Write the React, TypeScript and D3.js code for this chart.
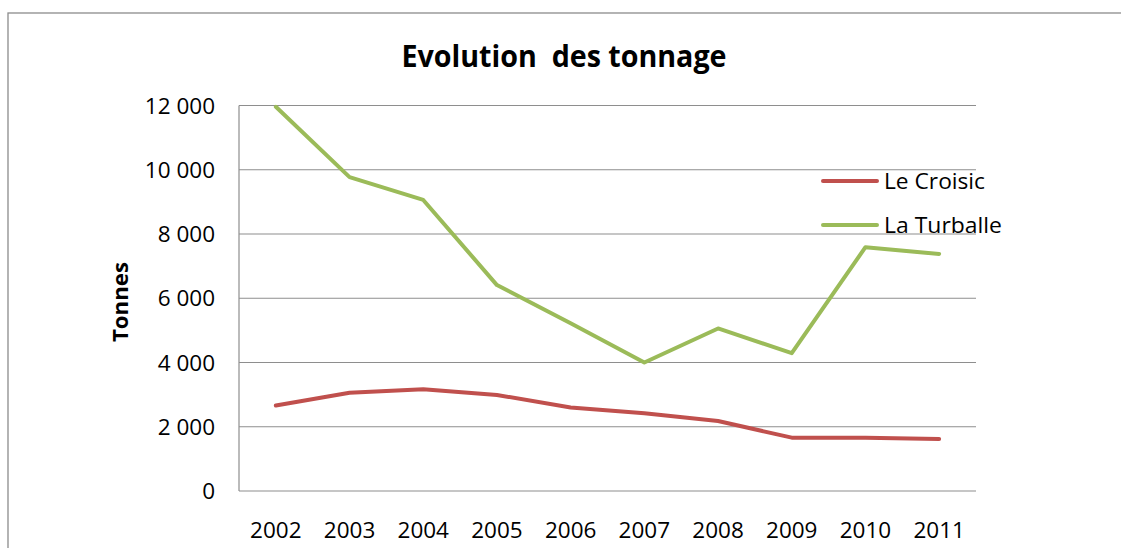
import React from "react";
import * as d3 from "d3";

const years = ["2002", "2003", "2004", "2005", "2006", "2007", "2008", "2009", "2010", "2011"];
const leCroisic = [2660, 3060, 3170, 2990, 2600, 2420, 2180, 1660, 1660, 1620];
const laTurballe = [11960, 9770, 9060, 6410, 5220, 4000, 5060, 4290, 7590, 7380];
const yTicks = [0, 2000, 4000, 6000, 8000, 10000, 12000];
const seriesNames = ["Le Croisic", "La Turballe"];
const seriesColors = ["#C0504D", "#9BBB59"];

const W = 1121;
const H = 548;
const plot = { left: 239, right: 976, top: 105.5, bottom: 491 };
const FONT = "'Open Sans', 'Liberation Sans', sans-serif";

export default function App() {
  const x = d3.scalePoint<string>().domain(years).range([plot.left, plot.right]).padding(0.5);
  const y = d3.scaleLinear().domain([0, 12000]).range([plot.bottom, plot.top]);
  const line = d3
    .line<number>()
    .x((_, i) => x(years[i]) as number)
    .y((d) => y(d));
  const fmt = (v: number) => d3.format(",")(v).replace(/,/g, " ");
  const data = [leCroisic, laTurballe];
  const legendLen = [101, 118];

  return (
    <div style={{ position: "fixed", left: 0, top: 0, width: W, height: H, background: "#fff" }}>
      <svg width={W} height={H} style={{ display: "block" }}>
        <rect x={0} y={0} width={W} height={H} fill="#fff" />
        <rect x={8} y={13} width={W + 20} height={H + 20} fill="none" stroke="#8c8c8c" strokeWidth={1.3} />
        <text
          x={564}
          y={67}
          textAnchor="middle"
          fontFamily={FONT}
          fontWeight="bold"
          fontSize={31}
          textLength={325}
          lengthAdjust="spacingAndGlyphs"
          fill="#000"
          style={{ whiteSpace: "pre" }}
        >
          {"Evolution  des tonnage"}
        </text>
        {yTicks.map((t) => (
          <g key={t}>
            <line x1={plot.left} x2={plot.right} y1={y(t)} y2={y(t)} stroke="#8e8e8e" strokeWidth={1.2} />
            <text x={215} y={y(t) + 8} textAnchor="end" fontFamily={FONT} fontSize={22.5} fill="#000">
              {fmt(t)}
            </text>
          </g>
        ))}
        <line x1={plot.left} x2={plot.left} y1={plot.top} y2={plot.bottom} stroke="#8e8e8e" strokeWidth={1.2} />
        {years.map((yr) => (
          <text key={yr} x={x(yr) as number} y={537.5} textAnchor="middle" fontFamily={FONT} fontSize={22.5} fill="#000">
            {yr}
          </text>
        ))}
        <text
          transform={`translate(127.5,302) rotate(-90)`}
          textAnchor="middle"
          fontFamily={FONT}
          fontWeight="bold"
          fontSize={22}
          textLength={80}
          lengthAdjust="spacingAndGlyphs"
          fill="#000"
        >
          Tonnes
        </text>
        {data.map((d, i) => (
          <path
            key={seriesNames[i]}
            d={line(d) as string}
            fill="none"
            stroke={seriesColors[i]}
            strokeWidth={4}
            strokeLinejoin="round"
            strokeLinecap="round"
          />
        ))}
        {seriesNames.map((n, i) => (
          <g key={n}>
            <line x1={823} x2={877} y1={181 + i * 44} y2={181 + i * 44} stroke={seriesColors[i]} strokeWidth={4} strokeLinecap="round" />
            <text
              x={884}
              y={188.5 + i * 44}
              fontFamily={FONT}
              fontSize={21}
              textLength={legendLen[i]}
              lengthAdjust="spacingAndGlyphs"
              fill="#000"
            >
              {n}
            </text>
          </g>
        ))}
      </svg>
    </div>
  );
}
